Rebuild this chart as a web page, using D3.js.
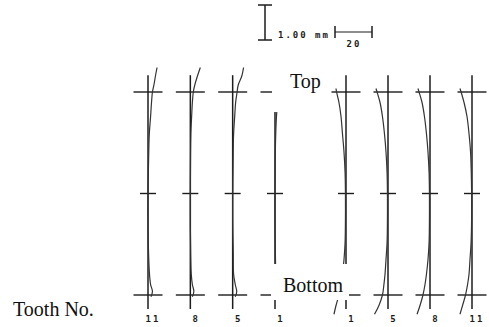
<!DOCTYPE html>
<html>
<head>
<meta charset="utf-8">
<script src="https://cdn.jsdelivr.net/npm/d3@7"></script>
<style>
html,body{margin:0;padding:0;background:#fff;}
svg{display:block;}
</style>
</head>
<body>
<svg id="c" width="489" height="327"></svg>
<script>
// ---- data ----
const leftTeeth = ["11", "8", "5", "1"];
const rightTeeth = ["1", "5", "8", "11"];
// evaluation marks along profile (mm from top)
const profileMarks = [0, 2.9, 5.8];
// heights (mm) of measured points
const leftHeights = [-0.70, -0.45, -0.20, 0, 0.30, 0.70, 1.20, 2.00, 2.90, 3.80, 4.60, 5.20, 5.50, 5.70, 5.85];
const rightHeights = [-0.10, 0, 0.30, 0.70, 1.20, 1.70, 2.30, 2.90, 3.60, 4.30, 4.80, 5.20, 5.50, 5.80, 6.10, 6.35];
// deviations (µm) left flank
const leftDev11 = [4.9, 4.0, 3.2, 2.4, 1.9, 1.4, 0.7, 0.3, 0.0, 0.0, 0.3, 0.8, 1.4, 2.4, 1.6];
const leftDev8  = [5.4, 3.8, 2.4, 1.6, 1.1, 0.7, 0.3, 0.1, 0.0, 0.0, 0.2, 0.5, 1.1, 1.9, 1.1];
const leftDev5  = [5.9, 4.9, 3.0, 2.4, 1.6, 1.1, 0.5, 0.2, 0.0, 0.0, 0.3, 0.5, 1.4, 2.2, 1.4];
const leftDev1  = [5.4, 4.3, 2.7, 2.0, 1.4, 0.8, 0.4, 0.1, 0.0, 0.0, 0.2, 0.5, 1.1, 1.9, 1.2];
// deviations (µm) right flank
const rightDev1  = [-5.4, -5.1, -3.8, -2.7, -1.9, -1.1, -0.5, -0.3, -0.3, -0.5, -1.1, -1.9, -2.7, -3.8, -5.4, -6.5];
const rightDev5  = [-6.5, -5.9, -4.3, -3.0, -1.9, -1.1, -0.5, -0.3, -0.3, -0.5, -1.1, -1.6, -2.2, -3.0, -4.9, -7.3];
const rightDev8  = [-6.5, -5.9, -4.3, -3.0, -1.9, -1.1, -0.5, -0.3, -0.3, -0.5, -1.1, -1.9, -2.7, -3.8, -5.4, -7.0];
const rightDev11 = [-6.5, -5.9, -4.3, -2.7, -1.6, -0.8, -0.4, -0.2, -0.2, -0.5, -1.1, -1.6, -2.4, -3.5, -5.1, -6.5];
// scale bar values
const scaleLen = 1.00;  // mm
const scaleDev = 20;    // µm
const scaleLabel = "1.00 mm";
const scaleDevLabel = "20";
const topLabel = "Top";
const bottomLabel = "Bottom";
const toothLabel = "Tooth No.";

// ---- scales ----
const svg = d3.select("#c");
const y = d3.scaleLinear().domain([0, 5.8]).range([92, 295]);
const dev = d3.scaleLinear().domain([0, 20]).range([0, 37]);
const xLeft = d3.scalePoint().domain(leftTeeth).range([148, 275]);
const xRight = d3.scalePoint().domain(rightTeeth).range([346, 472]);

const teeth = [
  {flank: "L", id: "11", dev: leftDev11, h: leftHeights},
  {flank: "L", id: "8", dev: leftDev8, h: leftHeights},
  {flank: "L", id: "5", dev: leftDev5, h: leftHeights},
  {flank: "L", id: "1", dev: leftDev1, h: leftHeights},
  {flank: "R", id: "1", dev: rightDev1, h: rightHeights},
  {flank: "R", id: "5", dev: rightDev5, h: rightHeights},
  {flank: "R", id: "8", dev: rightDev8, h: rightHeights},
  {flank: "R", id: "11", dev: rightDev11, h: rightHeights}
];
teeth.forEach(t => t.x = (t.flank === "L" ? xLeft : xRight)(t.id));

const ink = "#1c1c1c";
const serif = "'Liberation Serif', 'Times New Roman', Times, serif";
const g = svg.append("g");

teeth.forEach(t => {
  const gt = g.append("g");
  gt.append("line")
    .attr("x1", t.x).attr("x2", t.x)
    .attr("y1", y(-0.48)).attr("y2", y(6.2))
    .attr("stroke", ink).attr("stroke-width", 1.5);
  profileMarks.forEach((m, i) => {
    const hw = i === 1 ? 8 : 14.5;
    gt.append("line")
      .attr("x1", t.x - hw).attr("x2", t.x + hw)
      .attr("y1", y(m)).attr("y2", y(m))
      .attr("stroke", ink).attr("stroke-width", 1.4);
  });
  const line = d3.line()
    .x(d => t.x + dev(d[1]))
    .y(d => y(d[0]))
    .curve(d3.curveCatmullRom);
  gt.append("path")
    .attr("d", line(t.h.map((h, i) => [h, t.dev[i]])))
    .attr("fill", "none").attr("stroke", "#333").attr("stroke-width", 1.2);
  gt.append("text")
    .attr("x", t.x + 5).attr("y", 322)
    .attr("text-anchor", "middle")
    .attr("font-family", "'DejaVu Sans Mono', monospace")
    .attr("font-weight", "bold")
    .attr("font-size", 9)
    .attr("letter-spacing", t.id.length > 1 ? 2 : 0)
    .attr("fill", ink)
    .text(t.id);
});

// white label boxes
svg.append("rect").attr("x", 272).attr("y", 58).attr("width", 59).attr("height", 54).attr("fill", "#fff");
svg.append("rect").attr("x", 271).attr("y", 264).attr("width", 78).attr("height", 36).attr("fill", "#fff");

svg.append("text").attr("x", 290).attr("y", 88)
  .style("font-family", serif).attr("font-size", 20).attr("fill", "#111")
  .text(topLabel);
svg.append("text").attr("x", 283).attr("y", 292)
  .style("font-family", serif).attr("font-size", 20).attr("fill", "#111")
  .text(bottomLabel);
svg.append("text").attr("x", 13).attr("y", 316)
  .style("font-family", serif).attr("font-size", 20).attr("fill", "#111")
  .text(toothLabel);

// scale bars
const sx = 265, sy0 = 5;
const sLen = y(scaleLen) - y(0);
const sb = svg.append("g").attr("stroke", ink).attr("stroke-width", 1.5);
sb.append("line").attr("x1", sx).attr("x2", sx).attr("y1", sy0).attr("y2", sy0 + sLen);
sb.append("line").attr("x1", sx - 7).attr("x2", sx + 7).attr("y1", sy0).attr("y2", sy0);
sb.append("line").attr("x1", sx - 7).attr("x2", sx + 7).attr("y1", sy0 + sLen).attr("y2", sy0 + sLen);
const hx = 335, hy = 32, hLen = dev(scaleDev);
sb.append("line").attr("x1", hx).attr("x2", hx + hLen).attr("y1", hy).attr("y2", hy).attr("stroke-width", 1.2);
sb.append("line").attr("x1", hx).attr("x2", hx).attr("y1", hy - 6).attr("y2", hy + 6);
sb.append("line").attr("x1", hx + hLen).attr("x2", hx + hLen).attr("y1", hy - 6).attr("y2", hy + 6);

svg.append("text").attr("x", 278).attr("y", 38)
  .attr("font-family", "'DejaVu Sans Mono', monospace").attr("font-weight", "bold").attr("font-size", 9)
  .attr("letter-spacing", 2).attr("fill", ink).text(scaleLabel);
svg.append("text").attr("x", 354).attr("y", 47).attr("text-anchor", "middle")
  .attr("font-family", "'DejaVu Sans Mono', monospace").attr("font-weight", "bold").attr("font-size", 9)
  .attr("letter-spacing", 2).attr("fill", ink).text(scaleDevLabel);
</script>
</body>
</html>
